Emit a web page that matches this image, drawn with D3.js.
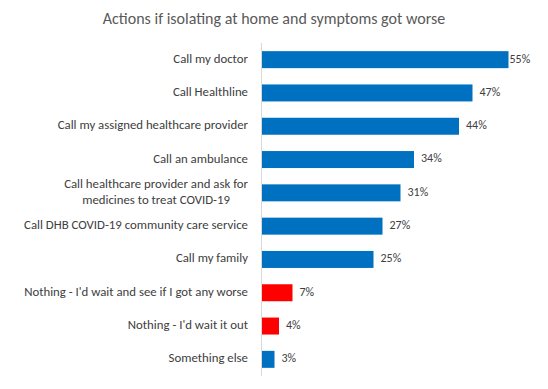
<!DOCTYPE html>
<html>
<head>
<meta charset="utf-8">
<script src="https://cdn.jsdelivr.net/npm/d3@7"></script>
<style>
  body { margin: 0; background: #fff; }
  svg text { font-family: Carlito, "Open Sans", "Liberation Sans", sans-serif; }
</style>
</head>
<body>
<div id="chart"></div>
<script>
// survey answers, top to bottom
const categories = [
  "Call my doctor",
  "Call Healthline",
  "Call my assigned healthcare provider",
  "Call an ambulance",
  "Call healthcare provider and ask for\nmedicines to treat COVID-19",
  "Call DHB COVID-19 community care service",
  "Call my family",
  "Nothing - I'd wait and see if I got any worse",
  "Nothing - I'd wait it out",
  "Something else"
];
const values = [55, 47, 44, 34, 31, 27, 25, 7, 4, 3];
const highlighted = [false, false, false, false, false, false, false, true, true, false];
const title = "Actions if isolating at home and symptoms got worse";

const w = 548, h = 389;
const margin = { top: 43, right: 17, bottom: 13, left: 261 };
const colors = { blue: '#0070C0', red: '#FF0000', text: '#404040', title: '#595959', axis: '#D9D9D9' };

let svg = d3.select('#chart').append('svg')
  .attr('width', w)
  .attr('height', h);

svg.append('text')
  .attr('x', w / 2)
  .attr('y', 24)
  .attr('text-anchor', 'middle')
  .attr('fill', colors.title)
  .style('font-size', '16px')
  .text(title);

let x = d3.scaleLinear()
  .domain([0, 60])
  .range([margin.left, w - margin.right]);

let y = d3.scaleBand()
  .domain(categories)
  .range([margin.top, h - margin.bottom])
  .paddingInner(0.49)
  .paddingOuter(0.245);

let rows = categories.map((c, i) => ({ name: c, value: values[i], red: highlighted[i] }));

svg.selectAll('rect.bar')
  .data(rows)
  .enter()
  .append('rect')
  .attr('class', 'bar')
  .attr('x', x(0))
  .attr('y', d => y(d.name))
  .attr('width', d => x(d.value) - x(0))
  .attr('height', y.bandwidth())
  .attr('fill', d => d.red ? colors.red : colors.blue);

// vertical axis line only, no ticks
svg.append('line')
  .attr('x1', x(0) + 0.5).attr('x2', x(0) + 0.5)
  .attr('y1', margin.top).attr('y2', h - margin.bottom)
  .attr('stroke', colors.axis)
  .attr('stroke-width', 1);

// category labels, right aligned; multi-line labels are centred within their block
let labelRight = x(0) - 13;
rows.forEach(d => {
  let lines = d.name.split('\n');
  let cy = y(d.name) + y.bandwidth() / 2;
  let t = svg.append('text')
    .attr('fill', colors.text)
    .style('font-size', '12.8px')
    .attr('dominant-baseline', 'middle');
  lines.forEach((ln, k) => {
    t.append('tspan')
      .attr('x', 0)
      .attr('y', cy + (k - (lines.length - 1) / 2) * 15.3)
      .text(ln);
  });
  let widths = t.selectAll('tspan').nodes().map(n => n.getComputedTextLength());
  let maxW = d3.max(widths);
  t.selectAll('tspan')
    .attr('text-anchor', 'middle')
    .attr('x', labelRight - maxW / 2);
});

// value labels, pushed inside the plot if they would overflow
let maxRight = w - 19;
svg.selectAll('text.val')
  .data(rows)
  .enter()
  .append('text')
  .attr('class', 'val')
  .attr('fill', colors.text)
  .style('font-size', '12px')
  .attr('dominant-baseline', 'middle')
  .attr('y', d => y(d.name) + y.bandwidth() / 2)
  .text(d => d.value + '%')
  .each(function (d) {
    let tw = this.getComputedTextLength();
    let px = x(d.value) + 7;
    if (px + tw > maxRight) px = Math.max(x(d.value) + 1, maxRight - tw);
    d3.select(this).attr('x', px);
  });
</script>
</body>
</html>
